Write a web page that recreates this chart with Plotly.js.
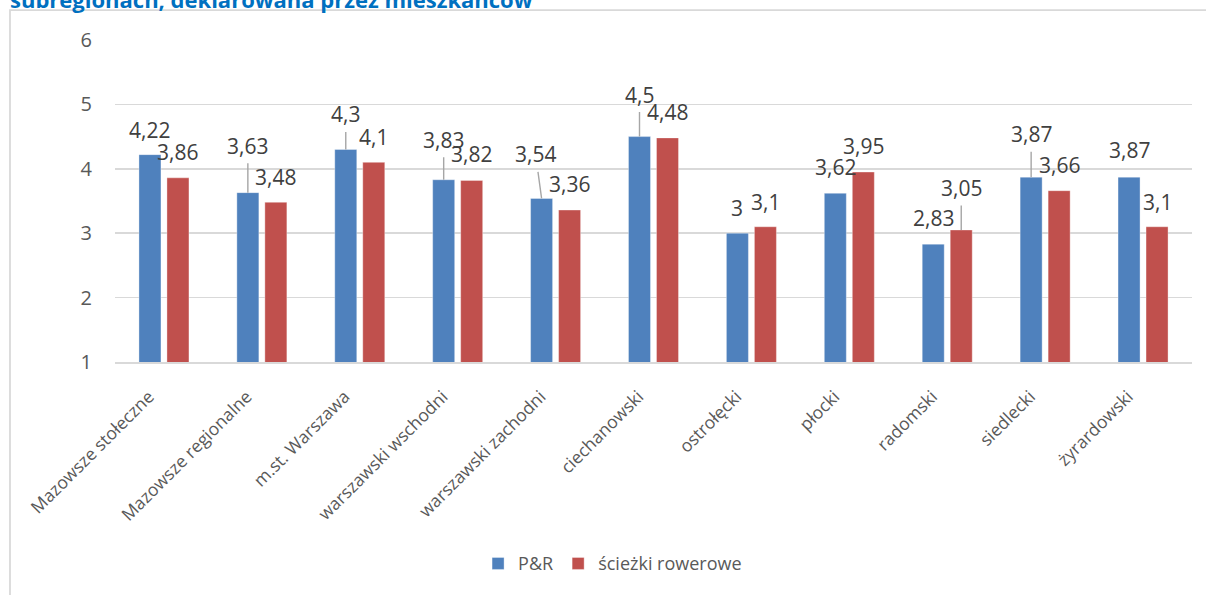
<!DOCTYPE html>
<html lang="pl">
<head>
<meta charset="utf-8">
<script src="https://cdn.plot.ly/plotly-3.0.1.min.js"></script>
<style>
  html, body { margin: 0; padding: 0; background: #ffffff; }
  #chart { width: 1206px; height: 595px; }
</style>
</head>
<body>
<div id="chart"></div>
<script>
// Subregions of the Mazowieckie voivodeship
const categories = [
  'Mazowsze stołeczne', 'Mazowsze regionalne', 'm.st. Warszawa',
  'warszawski wschodni', 'warszawski zachodni', 'ciechanowski',
  'ostrołęcki', 'płocki', 'radomski', 'siedlecki', 'żyrardowski'
];

// Declared ratings (scale 1–6)
const prValues = [4.22, 3.63, 4.3, 3.83, 3.54, 4.5, 3, 3.62, 2.83, 3.87, 3.87];
const bikeValues = [3.86, 3.48, 4.1, 3.82, 3.36, 4.48, 3.1, 3.95, 3.05, 3.66, 3.1];

const seriesNames = ['P&R', 'ścieżki rowerowe'];
const yTicks = [1, 2, 3, 4, 5, 6];

// Label placement relative to the bar top: [dx px, dy px, leader line]
const prLabelPos = [
  [0, -25, false], [0, -47, true], [0, -35, true], [0, -40, true], [-6, -44, true],
  [0, -42, true], [0, -25, false], [0, -26, false], [0, -26, false], [0, -43, true], [0, -27, false]
];
const bikeLabelPos = [
  [0, -26, false], [0, -25, false], [0, -25, false], [0, -26, false], [0, -26, false],
  [0, -26, false], [0, -25, false], [0, -26, false], [0, -42, true], [0, -26, false], [0, -25, false]
];

const BLUE = '#4F81BD';
const RED = '#C0504D';
const GRID = '#D9D9D9';
const FONT = '"Open Sans", "Noto Sans", sans-serif';
const BAR_GAP = 0.428;
const GROUP_GAP = 0.214;

const fmt = v => String(v).replace('.', ',');

const traces = [
  {
    type: 'bar', name: seriesNames[0], x: categories, y: prValues,
    marker: { color: BLUE, line: { color: 'rgba(255,255,255,0.35)', width: 1 } },
    hoverinfo: 'x+y'
  },
  {
    type: 'bar', name: seriesNames[1], x: categories, y: bikeValues,
    marker: { color: RED, line: { color: 'rgba(255,255,255,0.35)', width: 1 } },
    hoverinfo: 'x+y'
  }
];

// Horizontal offset (in category units) of each bar inside its group
const barShift = (1 - BAR_GAP) / 4;

function valueLabels(values, pos, shift) {
  return values.map((v, i) => ({
    x: i + shift, y: v, xref: 'x', yref: 'y',
    text: fmt(v),
    showarrow: true,
    arrowhead: 0,
    arrowwidth: 1.4,
    arrowcolor: pos[i][2] ? '#A6A6A6' : 'rgba(0,0,0,0)',
    ax: pos[i][0], ay: pos[i][1],
    borderpad: 3,
    font: { family: FONT, size: 21, color: '#404040' }
  }));
}

const annotations = [
  ...valueLabels(prValues, prLabelPos, -barShift),
  ...valueLabels(bikeValues, bikeLabelPos, barShift),
  {
    text: 'subregionach, deklarowana przez mieszkańców',
    xref: 'paper', yref: 'paper', x: -0.0993, y: 1.128,
    xanchor: 'left', yanchor: 'middle', showarrow: false,
    font: { family: FONT, size: 22, color: '#0070C0', weight: 700 }
  }
];

const layout = {
  width: 1206, height: 595,
  margin: { l: 115, r: 14, t: 40, b: 231 },
  paper_bgcolor: '#ffffff', plot_bgcolor: '#ffffff',
  barmode: 'group', bargap: BAR_GAP, bargroupgap: GROUP_GAP,
  showlegend: true,
  legend: {
    orientation: 'h', x: 0.462, xanchor: 'center', y: -0.6265, yanchor: 'middle',
    font: { family: FONT, size: 18, color: '#595959' }
  },
  xaxis: {
    type: 'category', tickangle: -45,
    tickfont: { family: FONT, size: 17.5, color: '#595959' },
    ticklabelshift: -15, ticklabelstandoff: 16,
    showgrid: false, showline: true, linecolor: GRID, linewidth: 1.5,
    ticks: '', fixedrange: true
  },
  yaxis: {
    range: [1, 6], tickvals: yTicks, ticktext: yTicks.map(String),
    tickfont: { family: FONT, size: 20, color: '#595959' },
    showgrid: true, gridcolor: GRID, gridwidth: 1.5,
    zeroline: false, showline: false, ticks: '',
    ticklabelstandoff: 22, fixedrange: true
  },
  annotations: annotations,
  shapes: [
    {
      type: 'rect', xref: 'paper', yref: 'paper',
      x0: -0.0975, x1: 1.02, y0: -0.75, y1: 1.0926,
      line: { color: GRID, width: 1.8 }, fillcolor: 'rgba(0,0,0,0)', layer: 'below'
    }
  ]
};

Plotly.newPlot('chart', traces, layout, { displayModeBar: false, staticPlot: true });
</script>
</body>
</html>
